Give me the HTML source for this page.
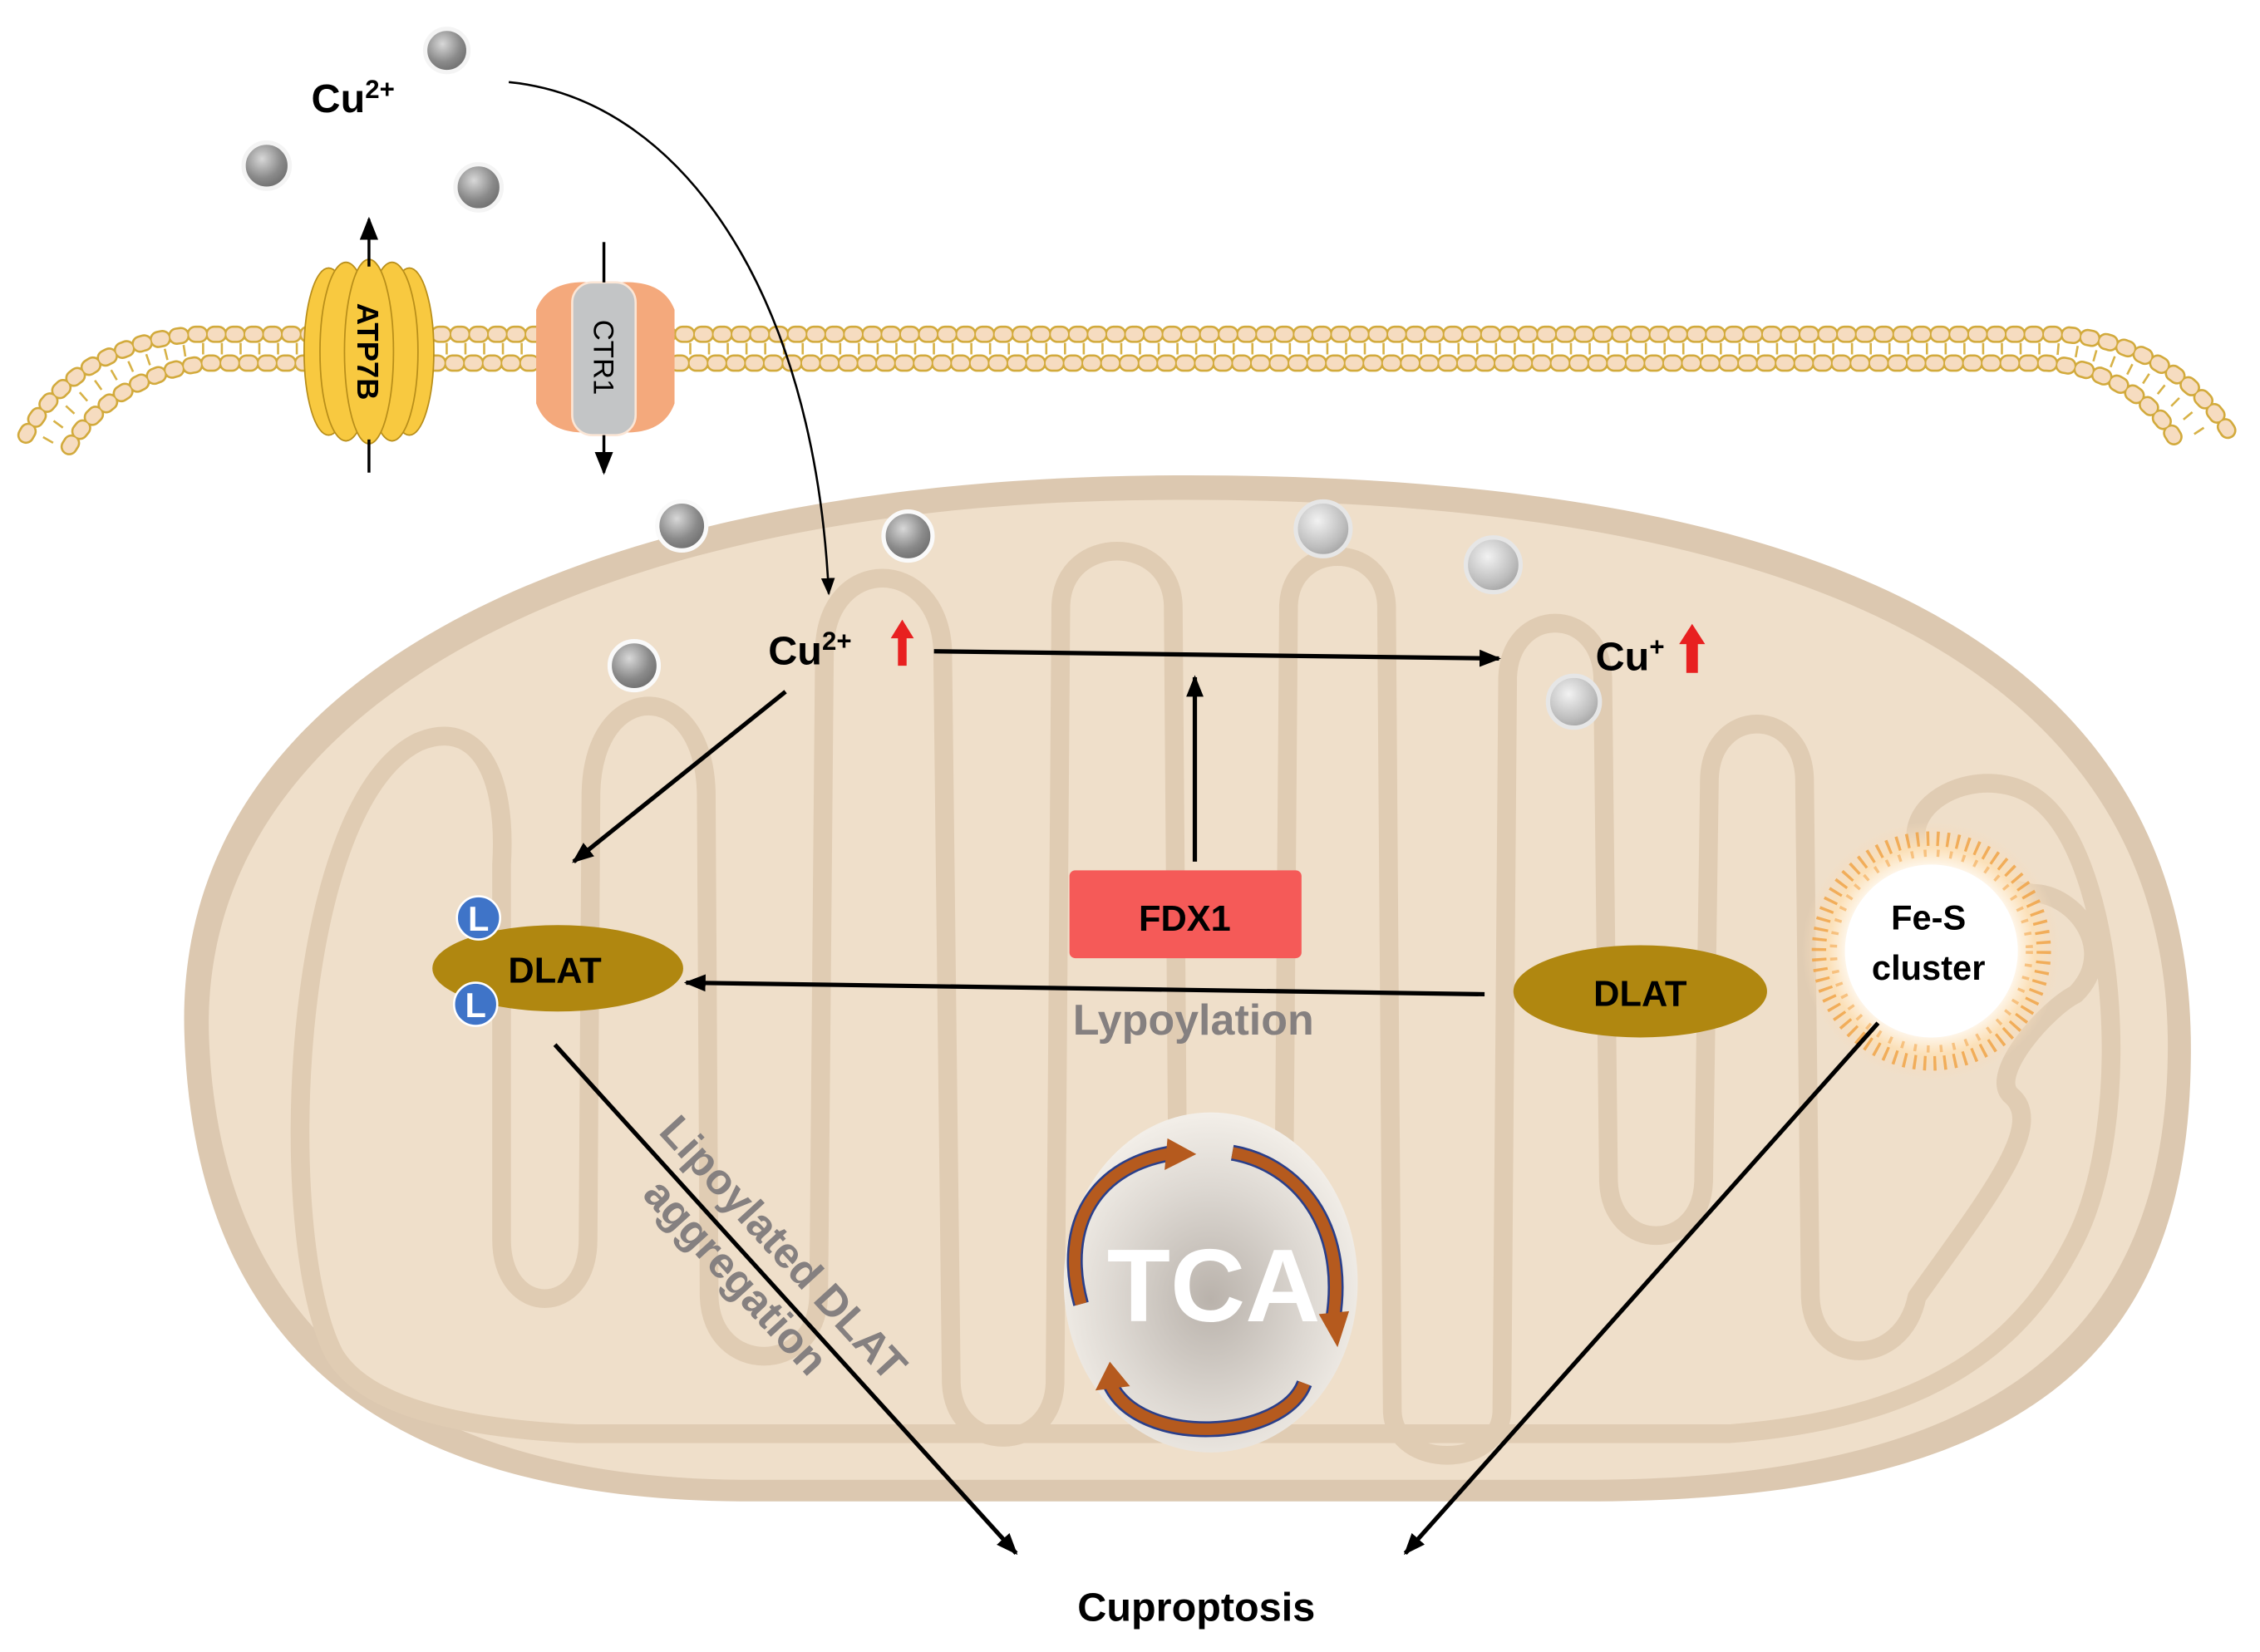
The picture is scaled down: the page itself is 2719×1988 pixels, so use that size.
<!DOCTYPE html>
<html><head><meta charset="utf-8"><style>
html,body{margin:0;padding:0;background:#fff}
svg{display:block}
text{font-family:"Liberation Sans",Arial,sans-serif;font-weight:bold}
</style></head><body>
<svg width="2719" height="1988" viewBox="0 0 1568 1146.5" preserveAspectRatio="none" xmlns="http://www.w3.org/2000/svg">
<defs>
<radialGradient id="ball" cx="40%" cy="35%" r="70%"><stop offset="0" stop-color="#d8d8d8"/><stop offset="0.6" stop-color="#8a8a8a"/><stop offset="1" stop-color="#6a6a6a"/></radialGradient>
<radialGradient id="ball2" cx="40%" cy="35%" r="70%"><stop offset="0" stop-color="#f2f2f2"/><stop offset="0.7" stop-color="#bdbdbd"/><stop offset="1" stop-color="#a0a0a0"/></radialGradient>
<radialGradient id="tca" cx="50%" cy="55%" r="55%"><stop offset="0" stop-color="#b9b2ab"/><stop offset="0.6" stop-color="#ddd8d2"/><stop offset="1" stop-color="#f3efe9"/></radialGradient>
<radialGradient id="fes" cx="50%" cy="50%" r="50%"><stop offset="0.6" stop-color="#fff"/><stop offset="0.8" stop-color="#fbe0b8"/><stop offset="1" stop-color="#f4dcc0" stop-opacity="0"/></radialGradient>
<marker id="ah" viewBox="0 0 10 10" refX="9" refY="5" markerWidth="5" markerHeight="5" orient="auto" markerUnits="strokeWidth"><path d="M0,1 L10,5 L0,9 Z" fill="#000"/></marker>
<marker id="ahs" viewBox="0 0 10 10" refX="9" refY="5" markerWidth="8" markerHeight="8" orient="auto" markerUnits="strokeWidth"><path d="M0,1 L10,5 L0,9 Z" fill="#000"/></marker>
</defs>

<!-- membrane -->
<g fill="none" stroke-linecap="round">
<path d="M33 306 C52 272 90 246 140 242 L1425 242 C1480 246 1515 278 1531 308" stroke="#d7b247" stroke-width="8" stroke-dasharray="1.5 11.5" stroke-linecap="butt"/>
<path d="M18 302 C40 262 80 236 135 232 L1430 232 C1490 236 1530 270 1550 306" stroke="#d2aa3c" stroke-width="12" stroke-dasharray="3 10"/>
<path d="M18 302 C40 262 80 236 135 232 L1430 232 C1490 236 1530 270 1550 306" stroke="#f6dcc0" stroke-width="9" stroke-dasharray="3 10"/>
<path d="M48 310 C65 282 100 256 145 252 L1420 252 C1470 256 1500 285 1512 310" stroke="#d2aa3c" stroke-width="12" stroke-dasharray="3 10"/>
<path d="M48 310 C65 282 100 256 145 252 L1420 252 C1470 256 1500 285 1512 310" stroke="#f6dcc0" stroke-width="9" stroke-dasharray="3 10"/>
</g>

<!-- ATP7B -->
<g stroke="#b88e1a" stroke-width="1" fill="#f8c940">
<ellipse cx="228" cy="244" rx="17" ry="58"/>
<ellipse cx="284" cy="244" rx="17" ry="58"/>
<ellipse cx="240" cy="244" rx="18" ry="62"/>
<ellipse cx="272" cy="244" rx="18" ry="62"/>
<ellipse cx="256" cy="244" rx="17" ry="64"/>
</g>
<line x1="256" y1="185" x2="256" y2="152" stroke="#000" stroke-width="2" marker-end="url(#ahs)"/>
<line x1="256" y1="305" x2="256" y2="328" stroke="#000" stroke-width="2"/>
<text transform="translate(248,244) rotate(90)" font-size="21" text-anchor="middle">ATP7B</text>

<!-- CTR1 -->
<path d="M372 215 Q380 194 410 196 L430 196 Q460 194 468 215 L468 280 Q460 302 430 300 L410 300 Q380 302 372 280 Z" fill="#f4a97c"/>
<rect x="397" y="196" width="44" height="106" rx="14" fill="#c3c5c6" stroke="#fbe6d6" stroke-width="1.5"/>
<line x1="419" y1="168" x2="419" y2="196" stroke="#000" stroke-width="2"/>
<line x1="419" y1="302" x2="419" y2="328" stroke="#000" stroke-width="2" marker-end="url(#ahs)"/>
<text transform="translate(412,248) rotate(90)" font-size="20" text-anchor="middle" style="font-weight:normal">CTR1</text>

<!-- outside copper -->
<g stroke="#f4f4f4" stroke-width="3">
<circle cx="310" cy="35" r="15" fill="url(#ball)"/>
<circle cx="185" cy="115" r="16" fill="url(#ball)"/>
<circle cx="332" cy="130" r="16" fill="url(#ball)"/>
</g>
<text x="216" y="78" font-size="28">Cu<tspan font-size="18" dy="-10">2+</tspan></text>

<!-- mitochondrion -->
<path d="M128 720 C118 470 400 335 800 330 C1210 326 1515 420 1520 720 C1523 930 1420 1042 1100 1042 L520 1042 C250 1042 135 920 128 720 Z" fill="#dcc8b0"/>
<path d="M145 720 C137 490 410 350 800 347 C1200 343 1500 440 1504 720 C1506 910 1405 1027 1100 1027 L520 1027 C270 1027 152 910 145 720 Z" fill="#efdfca"/>
<!-- cristae -->
<path d="M232 940 C190 860 200 560 290 515 C330 498 352 535 348 600 L348 860 C348 915 408 915 408 860 L410 550 C412 470 488 470 490 550 L492 900 C494 955 566 955 568 900 L572 450 C574 385 650 385 654 450 L660 960 C662 1010 730 1010 732 960 L736 420 C738 370 812 370 814 420 L818 940 C820 995 888 995 890 940 L894 420 C896 375 960 375 962 420 L966 980 C968 1020 1040 1020 1042 980 L1046 470 C1048 420 1110 420 1112 470 L1116 820 C1118 870 1180 870 1182 820 L1186 540 C1188 490 1250 490 1252 540 L1256 900 C1258 950 1320 950 1330 900 C1380 830 1420 780 1395 760 C1380 745 1420 700 1440 690 C1470 660 1440 620 1410 620 L1340 605 C1300 560 1380 520 1420 560 C1470 610 1480 780 1440 860 C1400 940 1330 985 1200 995 L400 995 C300 990 250 970 232 940 Z" fill="none" stroke="#e0ccb3" stroke-width="13" stroke-linejoin="round"/>

<!-- inner copper -->
<g stroke="#fafafa" stroke-width="3">
<circle cx="473" cy="365" r="17" fill="url(#ball)"/>
<circle cx="630" cy="372" r="17" fill="url(#ball)"/>
<circle cx="440" cy="462" r="17" fill="url(#ball)"/>
<circle cx="918" cy="367" r="19" fill="url(#ball2)" stroke="#e6e6e6"/>
<circle cx="1036" cy="392" r="19" fill="url(#ball2)" stroke="#e6e6e6"/>
<circle cx="1092" cy="487" r="18" fill="url(#ball2)" stroke="#e6e6e6"/>
</g>

<!-- curved arrow -->
<path d="M353 57 C470 68 565 200 575 412" fill="none" stroke="#000" stroke-width="1.5" marker-end="url(#ahs)"/>

<text x="533" y="461" font-size="28">Cu<tspan font-size="18" dy="-10">2+</tspan></text>
<path d="M623 462 L623 443 L618 443 L626 430 L634 443 L629 443 L629 462 Z" fill="#e82020"/>
<text x="1107" y="465" font-size="28">Cu<tspan font-size="18" dy="-10">+</tspan></text>
<path d="M1170 467 L1170 447 L1165 447 L1174 433 L1183 447 L1178 447 L1178 467 Z" fill="#e82020"/>

<line x1="648" y1="452" x2="1040" y2="457" stroke="#000" stroke-width="3" marker-end="url(#ah)"/>
<line x1="829" y1="598" x2="829" y2="470" stroke="#000" stroke-width="3" marker-end="url(#ah)"/>
<line x1="545" y1="480" x2="398" y2="598" stroke="#000" stroke-width="3" marker-end="url(#ah)"/>

<rect x="742" y="604" width="161" height="61" rx="4" fill="#f55a58"/>
<text x="822" y="646" font-size="25" text-anchor="middle">FDX1</text>

<ellipse cx="1138" cy="688" rx="88" ry="32" fill="#b08710"/>
<text x="1138" y="698" font-size="25" text-anchor="middle">DLAT</text>
<line x1="1030" y1="690" x2="476" y2="682" stroke="#000" stroke-width="3" marker-end="url(#ah)"/>
<text x="828" y="718" font-size="30" text-anchor="middle" fill="#858080">Lypoylation</text>

<ellipse cx="387" cy="672" rx="87" ry="30" fill="#b08710"/>
<text x="385" y="682" font-size="25" text-anchor="middle">DLAT</text>
<g stroke="#fff" stroke-width="1.5"><circle cx="332" cy="637" r="15" fill="#3f74c8"/><circle cx="330" cy="697" r="15" fill="#3f74c8"/></g>
<text x="332" y="646" font-size="24" fill="#fff" text-anchor="middle">L</text>
<text x="330" y="706" font-size="24" fill="#fff" text-anchor="middle">L</text>

<!-- Fe-S -->
<circle cx="1340" cy="660" r="90" fill="url(#fes)"/>
<circle cx="1340" cy="660" r="78" fill="none" stroke="#f0a040" stroke-width="10" stroke-dasharray="2 5" opacity="0.8"/>
<circle cx="1340" cy="660" r="68" fill="none" stroke="#f5b060" stroke-width="5" stroke-dasharray="2 7" opacity="0.7"/>
<circle cx="1340" cy="660" r="60" fill="#fff"/>
<text x="1338" y="645" font-size="24" text-anchor="middle">Fe-S</text>
<text x="1338" y="680" font-size="24" text-anchor="middle">cluster</text>

<!-- TCA -->
<ellipse cx="840" cy="890" rx="102" ry="118" fill="url(#tca)"/>
<g fill="none" stroke-linecap="butt">
<g stroke="#2a3f8a" stroke-width="11">
<path d="M750 905 C735 850 760 808 815 800"/>
<path d="M855 800 C900 808 935 850 925 915"/>
<path d="M905 960 C890 1000 790 1005 770 960"/>
</g>
<g stroke="#b55a1e" stroke-width="8">
<path d="M750 905 C735 850 760 808 815 800"/>
<path d="M855 800 C900 808 935 850 925 915"/>
<path d="M905 960 C890 1000 790 1005 770 960"/>
</g>
</g>
<path d="M810 790 L830 801 L808 812 Z" fill="#b55a1e"/>
<path d="M915 912 L928 935 L936 910 Z" fill="#b55a1e"/>
<path d="M760 965 L770 945 L784 962 Z" fill="#b55a1e"/>
<text x="842" y="917" font-size="72" fill="#fff" text-anchor="middle">TCA</text>

<!-- bottom arrows -->
<line x1="385" y1="725" x2="705" y2="1078" stroke="#000" stroke-width="3" marker-end="url(#ah)"/>
<line x1="1303" y1="710" x2="975" y2="1078" stroke="#000" stroke-width="3" marker-end="url(#ah)"/>
<text transform="translate(536,873) rotate(47.5)" font-size="30" text-anchor="middle" fill="#858080">Lipoylated DLAT</text>
<text transform="translate(503,893) rotate(47.5)" font-size="30" text-anchor="middle" fill="#858080">aggregation</text>
<text x="830" y="1125" font-size="28" text-anchor="middle">Cuproptosis</text>
</svg>
</body></html>
